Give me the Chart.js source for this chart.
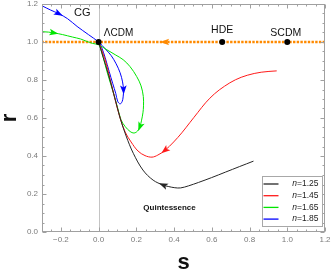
<!DOCTYPE html>
<html>
<head>
<meta charset="utf-8">
<script src="https://cdn.jsdelivr.net/npm/chart.js@4.4.0/dist/chart.umd.min.js"></script>
<style>
  html, body { margin: 0; padding: 0; background: #fff; }
</style>
</head>
<body>
<canvas id="sr" width="332" height="272"></canvas>
<script>
// s-r trajectories, values
const nValues = ['1.25', '1.45', '1.65', '1.85'];
const lineColors = ['#262626', '#ff1a1a', '#00e600', '#0000ff'];

const s125 = [0.821, 0.746, 0.672, 0.598, 0.530, 0.477, 0.435, 0.404, 0.372, 0.342, 0.289, 0.235, 0.184, 0.146, 0.114, 0.083, 0.051, 0.025, 0.0];
const r125 = [0.373, 0.344, 0.315, 0.286, 0.261, 0.243, 0.232, 0.233, 0.239, 0.247, 0.273, 0.326, 0.414, 0.505, 0.600, 0.717, 0.833, 0.917, 1.0];

const s145 = [0.944, 0.862, 0.788, 0.725, 0.667, 0.614, 0.567, 0.525, 0.483, 0.441, 0.398, 0.351, 0.314, 0.283, 0.246, 0.209, 0.172, 0.141, 0.114, 0.088, 0.062, 0.035, 0.0];
const r145 = [0.848, 0.841, 0.825, 0.801, 0.767, 0.727, 0.680, 0.628, 0.575, 0.522, 0.474, 0.429, 0.405, 0.394, 0.402, 0.426, 0.474, 0.526, 0.600, 0.695, 0.801, 0.906, 1.0];

const s165 = [-0.295, -0.265, -0.237, -0.191, -0.138, -0.096, -0.065, -0.033, 0.0, 0.044, 0.088, 0.130, 0.167, 0.202, 0.225, 0.237, 0.238, 0.235, 0.227, 0.219, 0.206, 0.188, 0.167, 0.141, 0.119, 0.101, 0.075, 0.048, 0.025, 0.009, 0.0];
const r165 = [1.054, 1.052, 1.048, 1.039, 1.026, 1.016, 1.004, 0.993, 0.985, 0.959, 0.933, 0.907, 0.870, 0.818, 0.769, 0.713, 0.664, 0.627, 0.585, 0.554, 0.531, 0.521, 0.529, 0.555, 0.590, 0.653, 0.743, 0.832, 0.917, 0.970, 1.0];

const s185 = [-0.295, -0.254, -0.211, -0.165, -0.114, -0.054, 0.0, 0.035, 0.067, 0.093, 0.114, 0.127, 0.132, 0.130, 0.125, 0.114, 0.101, 0.091, 0.075, 0.056, 0.035, 0.017, 0.0];
const r185 = [1.188, 1.168, 1.149, 1.123, 1.082, 1.039, 1.0, 0.964, 0.928, 0.885, 0.838, 0.790, 0.748, 0.711, 0.687, 0.674, 0.688, 0.729, 0.781, 0.845, 0.917, 0.969, 1.0];

// where the arrow heads sit (index into each curve)
const arrowIdx = [[9], [11], [2, 19], [2, 12]];

// r = 1 line (SCDM -> LCDM) and the fixed points on it
const lineS = [1.2, 1.0, 0.655, 0.35, 0.0, -0.3];
const lineR = [1, 1, 1, 1, 1, 1];
const pointNames = ['ΛCDM', 'HDE', 'SCDM'];
const pointS = [0.0, 0.655, 1.0];
const pointR = [1.0, 1.0, 1.0];

const xTicks = [-0.2, 0.0, 0.2, 0.4, 0.6, 0.8, 1.0, 1.2];
const yTicks = [0.0, 0.2, 0.4, 0.6, 0.8, 1.0, 1.2];

const zip = (xs, ys) => xs.map((v, i) => ({ x: v, y: ys[i] }));
const curves = [[s125, r125], [s145, r145], [s165, r165], [s185, r185]];

// text placed on the plot, in data coordinates
const notes = [
  { text: 'CG', s: -0.086, r: 1.155, font: '11px "Liberation Sans"' },
  { text: pointNames[0], s: 0.106, r: 1.048, font: '10px "Liberation Sans"' },
  { text: pointNames[1], s: 0.655, r: 1.061, font: '10.5px "Liberation Sans"' },
  { text: pointNames[2], s: 0.992, r: 1.047, font: '10.5px "Liberation Sans"' },
  { text: 'Quintessence', s: 0.376, r: 0.125, font: 'bold 8px "Liberation Sans"' }
];

function arrowHead(ctx, x, y, ang, color) {
  ctx.save();
  ctx.translate(x, y);
  ctx.rotate(ang);
  ctx.fillStyle = color;
  ctx.beginPath();
  ctx.moveTo(4.5, 0);
  ctx.lineTo(-4.5, -3.3);
  ctx.lineTo(-2.5, 0);
  ctx.lineTo(-4.5, 3.3);
  ctx.closePath();
  ctx.fill();
  ctx.restore();
}

const framePlugin = {
  id: 'frame',
  beforeDatasetsDraw(chart) {
    const { ctx, chartArea: a, scales: { x } } = chart;
    const x0 = Math.round(x.getPixelForValue(0)) + 0.5;
    ctx.save();
    ctx.strokeStyle = '#c4c4c4';
    ctx.lineWidth = 1;
    ctx.beginPath();
    ctx.moveTo(x0, a.top);
    ctx.lineTo(x0, a.bottom);
    ctx.stroke();
    ctx.restore();
  },
  afterDatasetsDraw(chart) {
    const { ctx, chartArea: a, scales: { x, y } } = chart;
    ctx.save();
    // arrows along the curves
    chart.data.datasets.forEach((ds, i) => {
      if (!ds.arrows) return;
      const pts = chart.getDatasetMeta(i).data;
      ds.arrows.forEach(k => {
        const p0 = pts[k - 1], p1 = pts[k + 1];
        const ang = Math.atan2(p1.y - p0.y, p1.x - p0.x);
        arrowHead(ctx, pts[k].x, pts[k].y, ang, ds.borderColor);
      });
    });
    // frame with inward ticks on all four sides
    ctx.strokeStyle = '#a0a0a0';
    ctx.lineWidth = 1;
    const L = Math.round(a.left) + 0.5, R = Math.round(a.right) - 0.5;
    const T = Math.round(a.top) + 0.5, B = Math.round(a.bottom) - 0.5;
    ctx.strokeRect(L, T, R - L, B - T);
    ctx.beginPath();
    for (let k = -6; k <= 24; k++) {
      const px = Math.round(x.getPixelForValue(k * 0.05)) + 0.5;
      const len = k % 4 === 0 ? 4 : 2;
      ctx.moveTo(px, B); ctx.lineTo(px, B - len);
      ctx.moveTo(px, T); ctx.lineTo(px, T + len);
    }
    for (let k = 0; k <= 24; k++) {
      const py = Math.round(y.getPixelForValue(k * 0.05)) + 0.5;
      const len = k % 4 === 0 ? 4 : 2;
      ctx.moveTo(L, py); ctx.lineTo(L + len, py);
      ctx.moveTo(R, py); ctx.lineTo(R - len, py);
    }
    ctx.stroke();
    ctx.restore();
  },
  afterDraw(chart) {
    const { ctx, chartArea: a, scales: { x, y } } = chart;
    ctx.save();
    ctx.fillStyle = '#111';
    ctx.textAlign = 'center';
    ctx.textBaseline = 'middle';
    notes.forEach(n => {
      ctx.font = n.font;
      ctx.fillText(n.text, x.getPixelForValue(n.s), y.getPixelForValue(n.r));
    });

    // legend box, bottom right
    const bx = Math.round(a.right) - 62.5, by = Math.round(a.bottom) - 55.5;
    ctx.fillStyle = '#fff';
    ctx.fillRect(bx, by, 60, 50);
    ctx.strokeStyle = '#a8a8a8';
    ctx.strokeRect(bx, by, 60, 50);
    nValues.forEach((n, i) => {
      const ly = by + 7.5 + i * 11.7;
      ctx.strokeStyle = lineColors[i];
      ctx.lineWidth = 1.3;
      ctx.beginPath();
      ctx.moveTo(bx + 1, ly);
      ctx.lineTo(bx + 16, ly);
      ctx.stroke();
      ctx.fillStyle = '#222';
      ctx.textAlign = 'right';
      ctx.font = '8.5px "Liberation Sans"';
      const tail = '=' + n;
      const tx = bx + 56;
      ctx.fillText(tail, tx, ly);
      const w = ctx.measureText(tail).width;
      ctx.font = 'italic 8.5px "Liberation Sans"';
      ctx.fillText('n', tx - w, ly);
    });
    ctx.restore();
  }
};

const datasets = curves.map((c, i) => ({
  label: 'n=' + nValues[i],
  data: zip(c[0], c[1]),
  showLine: true,
  borderColor: lineColors[i],
  borderWidth: 1,
  pointRadius: 0,
  tension: 0.35,
  arrows: arrowIdx[i],
  order: 2
}));

datasets.push({
  label: 'r=1',
  data: zip(lineS, lineR),
  showLine: true,
  borderColor: '#ff8a00',
  borderWidth: 2.5,
  borderDash: [2.4, 1.3],
  pointRadius: 0,
  arrows: [3],
  order: 3
});

datasets.push({
  label: 'points',
  data: zip(pointS, pointR),
  showLine: false,
  pointRadius: 3,
  pointBackgroundColor: '#000',
  pointBorderWidth: 0,
  order: 1
});

// pin the plot box: no extra room for overhanging tick labels
const noOverhang = s => {
  s.paddingTop = 0; s.paddingBottom = 0;
  s.paddingLeft = 0; s.paddingRight = 0;
};

new Chart(document.getElementById('sr'), {
  type: 'scatter',
  data: { datasets },
  options: {
    responsive: false,
    animation: false,
    layout: { padding: { top: 4, right: 7, left: 0, bottom: 0 } },
    plugins: { legend: { display: false }, tooltip: { enabled: false } },
    scales: {
      x: {
        min: -0.3, max: 1.2,
        afterBuildTicks: s => { s.ticks = xTicks.map(v => ({ value: v })); },
        afterFit: s => { s.height = 40; noOverhang(s); },
        grid: { display: false, drawTicks: false },
        border: { display: false },
        ticks: {
          padding: 3,
          color: '#7a7a7a',
          font: { family: 'Liberation Sans', size: 8 },
          callback: v => (v < 0 ? '−' : '') + Math.abs(v).toFixed(1)
        },
        title: {
          display: true, text: 's', color: '#111',
          padding: 0,
          font: { family: 'Liberation Sans', size: 22, weight: 'bold', lineHeight: 0.86 }
        }
      },
      y: {
        min: 0, max: 1.2,
        afterBuildTicks: s => { s.ticks = yTicks.map(v => ({ value: v })); },
        afterFit: s => { s.width = 42; noOverhang(s); },
        grid: { display: false, drawTicks: false },
        border: { display: false },
        ticks: {
          padding: 4,
          color: '#7a7a7a',
          font: { family: 'Liberation Sans', size: 8 },
          callback: v => v.toFixed(1)
        },
        title: {
          display: true, text: 'r', color: '#111',
          padding: { top: 0, bottom: 8 },
          font: { family: 'Liberation Sans', size: 22, weight: 'bold', lineHeight: 0.86 }
        }
      }
    }
  },
  plugins: [framePlugin]
});
</script>
</body>
</html>
